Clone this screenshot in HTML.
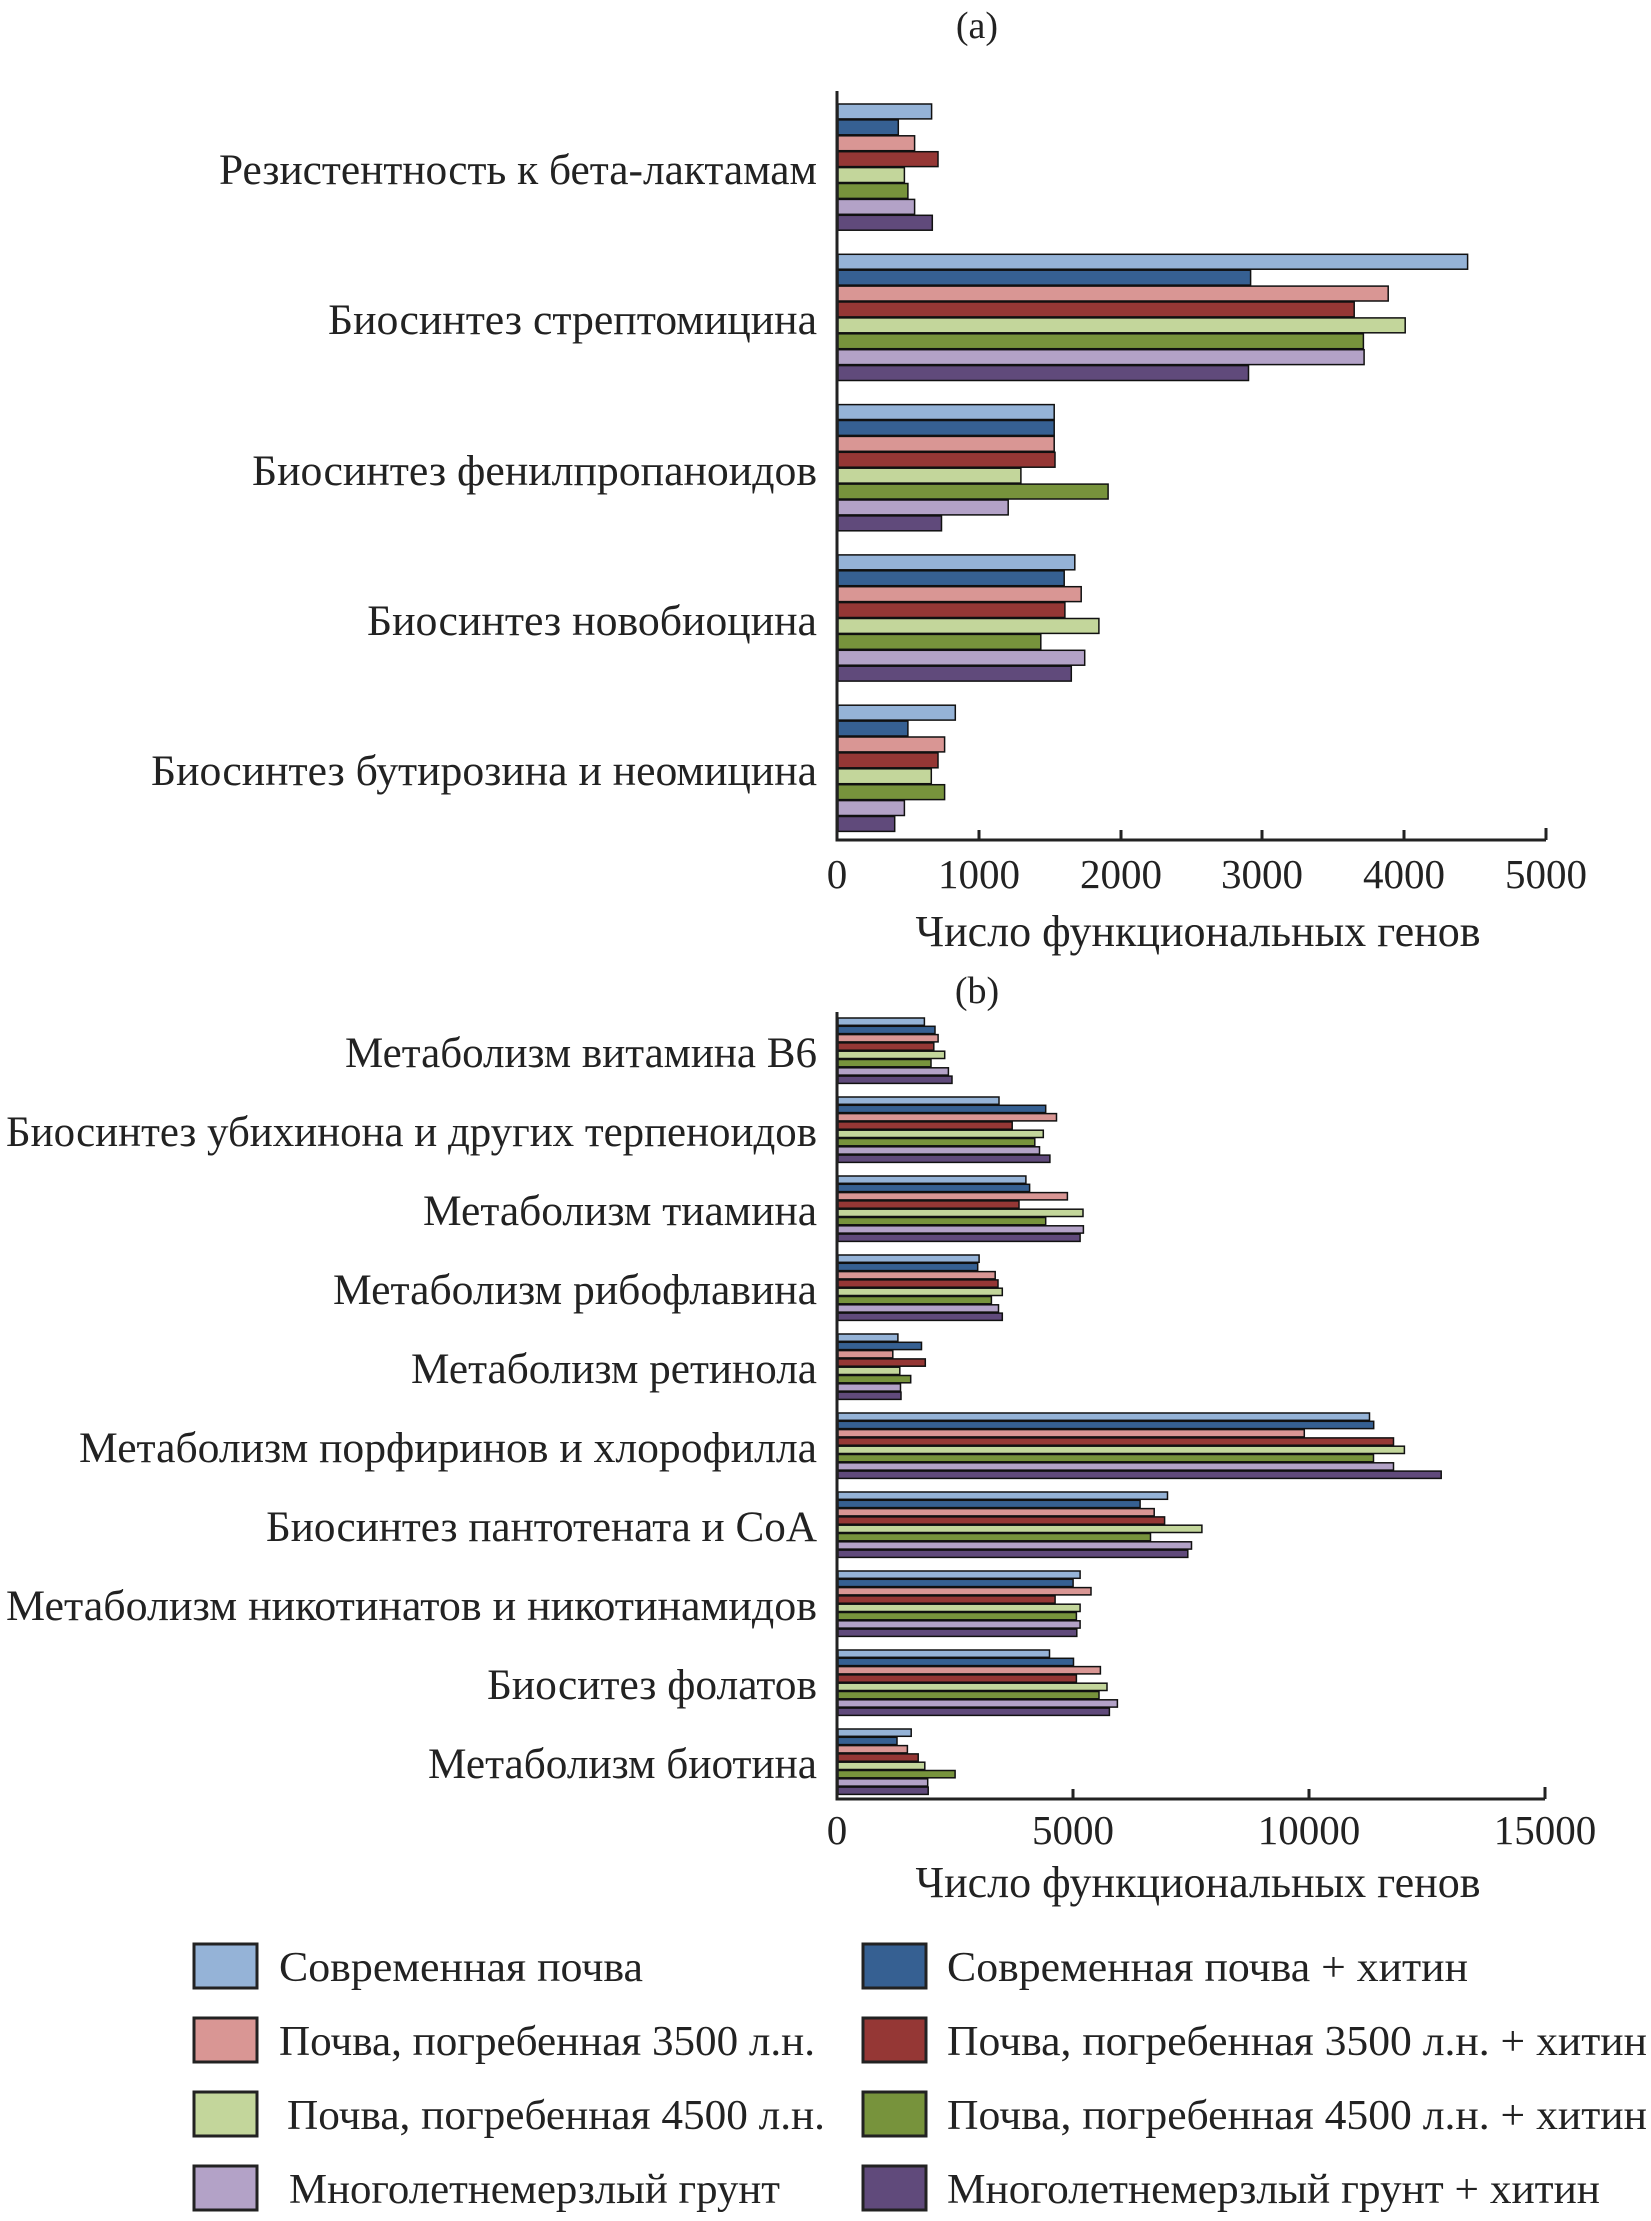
<!DOCTYPE html>
<html><head><meta charset="utf-8"><style>
html,body{margin:0;padding:0;background:#fff;}
svg{display:block;font-family:"Liberation Serif",serif;}
</style></head><body>
<svg id="s" width="1651" height="2221" viewBox="0 0 1651 2221" xmlns="http://www.w3.org/2000/svg">
<g font-size="43" fill="#222">
<text x="977" y="38" text-anchor="middle" font-size="38">(a)</text>
<text x="977" y="1003" text-anchor="middle" font-size="38">(b)</text>
<g text-anchor="end" lengthAdjust="spacingAndGlyphs">
<text x="817" y="184" textLength="598" lengthAdjust="spacingAndGlyphs">Резистентность к бета-лактамам</text>
<text x="817" y="334" textLength="489" lengthAdjust="spacingAndGlyphs">Биосинтез стрептомицина</text>
<text x="817" y="485" textLength="565" lengthAdjust="spacingAndGlyphs">Биосинтез фенилпропаноидов</text>
<text x="817" y="635" textLength="450" lengthAdjust="spacingAndGlyphs">Биосинтез новобиоцина</text>
<text x="817" y="785" textLength="666" lengthAdjust="spacingAndGlyphs">Биосинтез бутирозина и неомицина</text>
<text x="817" y="1067" textLength="472" lengthAdjust="spacingAndGlyphs">Метаболизм витамина B6</text>
<text x="817" y="1146" textLength="811" lengthAdjust="spacingAndGlyphs">Биосинтез убихинона и других терпеноидов</text>
<text x="817" y="1225" textLength="394" lengthAdjust="spacingAndGlyphs">Метаболизм тиамина</text>
<text x="817" y="1304" textLength="484" lengthAdjust="spacingAndGlyphs">Метаболизм рибофлавина</text>
<text x="817" y="1383" textLength="406" lengthAdjust="spacingAndGlyphs">Метаболизм ретинола</text>
<text x="817" y="1462" textLength="738" lengthAdjust="spacingAndGlyphs">Метаболизм порфиринов и хлорофилла</text>
<text x="817" y="1541" textLength="551" lengthAdjust="spacingAndGlyphs">Биосинтез пантотената и CoA</text>
<text x="817" y="1620" textLength="811" lengthAdjust="spacingAndGlyphs">Метаболизм никотинатов и никотинамидов</text>
<text x="817" y="1699" textLength="330" lengthAdjust="spacingAndGlyphs">Биоситез фолатов</text>
<text x="817" y="1778" textLength="389" lengthAdjust="spacingAndGlyphs">Метаболизм биотина</text>
</g>
<g text-anchor="middle" font-size="41">
<text x="837" y="888">0</text><text x="979" y="888">1000</text><text x="1121" y="888">2000</text>
<text x="1262" y="888">3000</text><text x="1404" y="888">4000</text><text x="1546" y="888">5000</text>
<text x="1198" y="946" font-size="44">Число функциональных генов</text>
<text x="837" y="1844">0</text><text x="1073" y="1844">5000</text><text x="1309" y="1844">10000</text>
<text x="1545" y="1844">15000</text>
<text x="1198" y="1897" font-size="44">Число функциональных генов</text>
</g>
</g>
<g id="bars"></g>
<g stroke="#222" stroke-width="3" fill="none">
<path d="M837 91V840H1546"/>
<path d="M979 840v-10M1121 840v-10M1262 840v-10M1404 840v-10M1546 840v-12"/>
<path d="M837 1012V1799H1545"/>
<path d="M1073 1799v-10M1309 1799v-10M1545 1799v-12"/>
</g>
<g id="leg" stroke="#222" stroke-width="3">
<rect x="194" y="1944" width="63" height="44" fill="#95b3d7"/>
<rect x="194" y="2018" width="63" height="44" fill="#d99694"/>
<rect x="194" y="2092" width="63" height="44" fill="#c3d69b"/>
<rect x="194" y="2166" width="63" height="44" fill="#b3a2c7"/>
<rect x="863" y="1944" width="63" height="44" fill="#366092"/>
<rect x="863" y="2018" width="63" height="44" fill="#953735"/>
<rect x="863" y="2092" width="63" height="44" fill="#77933c"/>
<rect x="863" y="2166" width="63" height="44" fill="#604a7b"/>
</g>
<g font-size="42" fill="#222">
<text x="279" y="1981" textLength="364" lengthAdjust="spacingAndGlyphs">Современная почва</text>
<text x="279" y="2055" textLength="536" lengthAdjust="spacingAndGlyphs">Почва, погребенная 3500 л.н.</text>
<text x="287" y="2129" textLength="538" lengthAdjust="spacingAndGlyphs">Почва, погребенная 4500 л.н.</text>
<text x="289" y="2203" textLength="491" lengthAdjust="spacingAndGlyphs">Многолетнемерзлый грунт</text>
<text x="947" y="1981" textLength="521" lengthAdjust="spacingAndGlyphs">Современная почва + хитин</text>
<text x="947" y="2055" textLength="700" lengthAdjust="spacingAndGlyphs">Почва, погребенная 3500 л.н. + хитин</text>
<text x="947" y="2129" textLength="700" lengthAdjust="spacingAndGlyphs">Почва, погребенная 4500 л.н. + хитин</text>
<text x="947" y="2203" textLength="653" lengthAdjust="spacingAndGlyphs">Многолетнемерзлый грунт + хитин</text>
</g>
</svg>
<script>
var C=["#95b3d7","#366092","#d99694","#953735","#c3d69b","#77933c","#b3a2c7","#604a7b"];
var A=[[660,425,540,705,468,493,540,665],[4440,2910,3880,3640,4000,3705,3710,2895],[1525,1525,1525,1530,1290,1905,1200,730],[1670,1595,1715,1600,1840,1430,1740,1645],[827,493,752,705,658,752,468,400]];
var B=[[1830,2055,2120,2030,2260,1970,2340,2415],[3410,4400,4630,3690,4350,4170,4270,4490],[3980,4060,4860,3835,5190,4400,5200,5130],[2990,2960,3330,3390,3480,3250,3400,3480],[1270,1770,1160,1850,1310,1540,1325,1335],[11260,11350,9880,11770,12000,11345,11770,12780],[6980,6400,6700,6920,7710,6620,7490,7410],[5130,4980,5360,4600,5130,5050,5130,5060],[4480,4990,5560,5050,5700,5530,5920,5750],[1550,1250,1470,1700,1840,2480,1900,1910]];
var h="";
function draw(D,y0,gs,bh,sc){for(var g=0;g<D.length;g++)for(var i=0;i<8;i++){var y=y0+g*gs+i*bh,w=D[g][i]*sc;
h+='<rect x="838" y="'+y.toFixed(1)+'" width="'+w.toFixed(1)+'" height="'+(bh-1).toFixed(1)+'" fill="'+C[i]+'" stroke="#111" stroke-width="1.5"/>';}}
draw(A,104,150.3,15.9,0.1418);
draw(B,1018,79,8.3,0.0472);
document.getElementById("bars").innerHTML=h;
</script>
</body></html>
